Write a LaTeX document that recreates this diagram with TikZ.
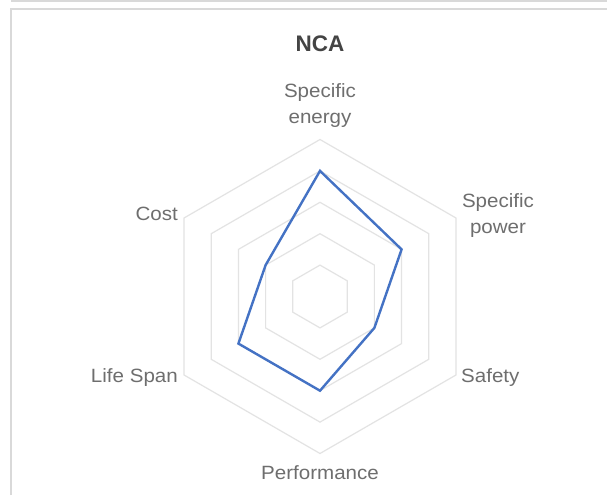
\documentclass[tikz,border=0pt]{standalone}
\usepackage{fontspec}
\usetikzlibrary{calc}
\setmainfont{Liberation Sans}
\newfontfamily\labelfont[FakeStretch=1.07]{Liberation Sans}
\definecolor{framegray}{HTML}{D9D9D9}
\definecolor{gridgray}{HTML}{E3E3E3}
\definecolor{labelgray}{HTML}{6E6E6E}
\definecolor{titlegray}{HTML}{444444}
\definecolor{seriesblue}{HTML}{4472C4}
\tikzset{
  frameline/.style={draw=framegray, line width=1.4pt},
  gridline/.style={draw=gridgray, line width=1.2pt, line join=miter},
  seriesline/.style={draw=seriesblue, line width=2.4pt, line join=miter},
  axislabel/.style={text=labelgray, font=\labelfont\fontsize{19.2}{26}\selectfont, inner sep=0pt, align=center},
  titlelabel/.style={text=titlegray, font=\fontsize{22.5}{26}\selectfont\bfseries, inner sep=0pt}
}
\begin{document}
\begin{tikzpicture}[x=1pt,y=1pt]
\useasboundingbox (0,0) rectangle (607,495);
\fill[white] (0,0) rectangle (607,495);
% frame
\draw[frameline] (11,494) -- (607,494);
\draw[frameline] (11,0) -- (11,486) -- (607,486);
% center and grid
\coordinate (c) at (320,198.5);
\def\rstep{31.4}
\foreach \k in {1,...,5} {
  \draw[gridline] ($(c)+(90:\k*\rstep)$)
    \foreach \a in {30,-30,-90,-150,150} { -- ($(c)+(\a:\k*\rstep)$) } -- cycle;
}
% data values: SE 4, SP 3, Safety 2, Perf 3, Life 3, Cost 2
\coordinate (dse) at ($(c)+(90:4*\rstep)$);
\coordinate (dsp) at ($(c)+(30:3*\rstep)$);
\coordinate (dsa) at ($(c)+(-30:2*\rstep)$);
\coordinate (dpe) at ($(c)+(-90:3*\rstep)$);
\coordinate (dls) at ($(c)+(-150:3*\rstep)$);
\coordinate (dco) at ($(c)+(150:2*\rstep)$);
\draw[seriesline] (dse) -- (dsp) -- (dsa) -- (dpe) -- (dls) -- (dco) -- cycle;
% labels
\node[titlelabel] (title) at (320,451) {NCA};
\node[axislabel] (lse) at (320,389) {Specific\\energy};
\node[axislabel] (lsp) at (498,279.5) {Specific\\power};
\node[axislabel, anchor=east] (lco) at (178,281) {Cost};
\node[axislabel, anchor=east] (lls) at (178,117) {Life Span};
\node[axislabel, anchor=west] (lsa) at (461,117) {Safety};
\node[axislabel] (lpe) at (320,22) {Performance};
\end{tikzpicture}
\end{document}
